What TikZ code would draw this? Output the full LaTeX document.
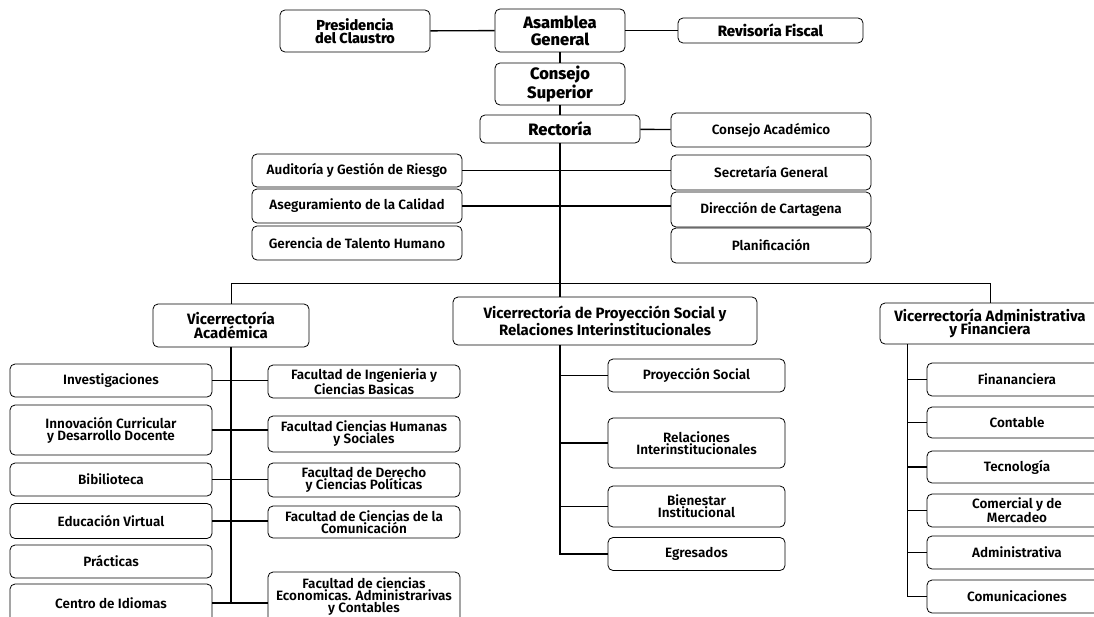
\documentclass[tikz,border=0pt]{standalone}
\usepackage{fontspec}
\setmainfont{Fira Sans}[UprightFont={* SemiBold}, BoldFont={* Bold}]
\newfontfamily\heavyfont{Fira Sans ExtraBold}
\usetikzlibrary{positioning}

\begin{document}
\begin{tikzpicture}[x=1pt, y=-1pt,
    caja/.style={draw, rounded corners=5pt, line width=0.8pt, align=center, inner sep=0pt,
        font=\fontsize{13.5}{12}\selectfont},
    jefe/.style={caja, font=\fontsize{16.5}{17}\heavyfont},
    vice/.style={caja, font=\fontsize{15}{13.5}\selectfont\bfseries},
    linea/.style={line width=1.4pt}]

    \clip (0,0) rectangle (1094,616);

    % Direccion
    \node[caja, minimum width=150, minimum height=42, font=\fontsize{14.5}{13.5}\heavyfont] (pres) at (355,31) {Presidencia\\del Claustro};
    \node[jefe, minimum width=130, minimum height=43] (asam) at (560,30.5) {Asamblea\\General};
    \node[caja, minimum width=185, minimum height=25, font=\fontsize{15}{15}\heavyfont] (revi) at (770.5,30.5) {Revisoría Fiscal};
    \node[jefe, minimum width=130, minimum height=42] (cons) at (560,84) {Consejo\\Superior};
    \node[caja, minimum width=160, minimum height=28, font=\fontsize{16.5}{16}\heavyfont] (rect) at (560,129) {Rectoría};

    \draw[linea] (pres) -- (asam);
    \draw[linea] (asam) -- (revi);
    \draw[linea] (asam) -- (cons);
    \draw[linea] (cons) -- (rect);

    % Staff de Rectoria
    \node[caja, minimum width=200, minimum height=34] (cacad) at (771,130) {Consejo Académico};
    \node[caja, minimum width=200, minimum height=35] (secg) at (771,172.5) {Secretaría General};
    \node[caja, minimum width=200, minimum height=35] (dcart) at (771,209.5) {Dirección de Cartagena};
    \node[caja, minimum width=200, minimum height=35] (plan) at (771,245.5) {Planificación};
    \node[caja, minimum width=210, minimum height=33] (audi) at (357,170.5) {Auditoría y Gestión de Riesgo};
    \node[caja, minimum width=210, minimum height=34] (aseg) at (357,206) {Aseguramiento de la Calidad};
    \node[caja, minimum width=210, minimum height=34] (gere) at (357,243) {Gerencia de Talento Humano};

    \coordinate (bus) at (560,284);
    \draw[linea] (rect) -- (cacad);
    \draw[linea] (rect) -- (bus);
    \draw[linea] (audi.east) -- (audi.east -| secg.west);
    \draw[linea] (aseg.east) -- (aseg.east -| dcart.west);

    % Vicerrectorias
    \node[vice, minimum width=156, minimum height=43] (vacad) at (231,325.5) {Vicerrectoría\\Académica};
    \node[vice, minimum width=304, minimum height=48] (vproy) at (605,321) {Vicerrectoría de Proyección Social y\\Relaciones Interinstitucionales};
    \node[vice, minimum width=220, minimum height=41] (vadm) at (990,323.5) {Vicerrectoría Administrativa\\y Financiera};

    \draw[line width=1pt] (vacad.north) -- ++(0,-20) -| (vadm.north);
    \draw[linea] (bus) -- (bus |- vproy.north);

    % Academica
    \node[caja, minimum width=202, minimum height=33] (inv) at (111,380.5) {Investigaciones};
    \node[caja, minimum width=202, minimum height=50] (innov) at (111,430) {Innovación Curricular\\y Desarrollo Docente};
    \node[caja, minimum width=202, minimum height=33] (bibl) at (111,479.5) {Bibilioteca};
    \node[caja, minimum width=202, minimum height=35] (educ) at (111,521) {Educación Virtual};
    \node[caja, minimum width=202, minimum height=33] (prac) at (111,561.5) {Prácticas};
    \node[caja, minimum width=202, minimum height=38] (cidi) at (111,603) {Centro de Idiomas};
    \node[caja, minimum width=192, minimum height=33] (fing) at (364,381.5) {Facultad de Ingenieria y\\Ciencias Basicas};
    \node[caja, minimum width=192, minimum height=36] (fhum) at (364,434) {Facultad Ciencias Humanas\\y Sociales};
    \node[caja, minimum width=192, minimum height=34] (fder) at (364,480) {Facultad de Derecho\\y Ciencias Políticas};
    \node[caja, minimum width=192, minimum height=32] (fcom) at (364,522) {Facultad de Ciencias de la\\Comunicación};
    \node[caja, minimum width=192, minimum height=50] (feco) at (364,597) {Facultad de ciencias\\Economicas. Administrarivas\\y Contables};

    \draw[linea] (vacad.south) -- (vacad.south |- cidi.east);
    \foreach \a/\b in {inv/fing, innov/fhum, bibl/fder, educ/fcom, cidi/feco}
        \draw[linea] (\a.east) -- (\a.east -| \b.west);

    % Proyeccion social
    \node[caja, minimum width=177, minimum height=33] (psoc) at (696.5,375.5) {Proyección Social};
    \node[caja, minimum width=177, minimum height=50] (rint) at (696.5,443) {Relaciones\\Interinstitucionales};
    \node[caja, minimum width=177, minimum height=41] (bien) at (696.5,506.5) {Bienestar\\Institucional};
    \node[caja, minimum width=177, minimum height=33] (egre) at (696.5,554) {Egresados};

    \draw[linea] (bus |- vproy.south) |- (egre.west);
    \foreach \n in {psoc, rint, bien}
        \draw[linea] (bus |- \n.west) -- (\n.west);

    % Administrativa
    \node[caja, minimum width=180, minimum height=33] (fina) at (1017,379.5) {Finananciera};
    \node[caja, minimum width=180, minimum height=31] (cont) at (1017,422.5) {Contable};
    \node[caja, minimum width=180, minimum height=32] (tecn) at (1017,467) {Tecnología};
    \node[caja, minimum width=180, minimum height=33] (come) at (1017,510.5) {Comercial y de\\Mercadeo};
    \node[caja, minimum width=180, minimum height=33] (admi) at (1017,552.5) {Administrativa};
    \node[caja, minimum width=180, minimum height=33] (comu) at (1017,596.5) {Comunicaciones};

    \coordinate (abar) at ([xshift=28]vadm.south west);
    \draw[linea] (abar) |- (comu.west);
    \foreach \n in {fina, cont, tecn, come, admi}
        \draw[linea] (\n.west -| abar) -- (\n.west);
\end{tikzpicture}
\end{document}
